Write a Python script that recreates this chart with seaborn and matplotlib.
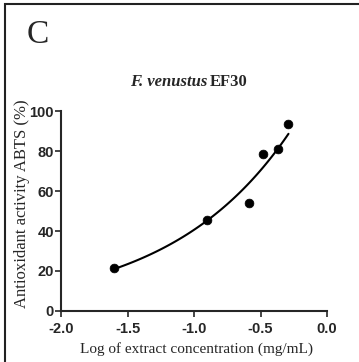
import numpy as np
import matplotlib
matplotlib.use("Agg")
import matplotlib.pyplot as plt
import seaborn as sns
from matplotlib.patches import Rectangle

# data
log_conc = [-1.60, -0.90, -0.59, -0.48, -0.37, -0.29]
activity = [21.5, 45.5, 54.0, 78.5, 81.0, 93.5]
x_ticks = [-2.0, -1.5, -1.0, -0.5, 0.0]
y_ticks = [0, 20, 40, 60, 80, 100]

sns.set_style("ticks")
plt.rcParams["font.family"] = ["Liberation Sans", "DejaVu Sans"]

fig = plt.figure(figsize=(3.59, 3.62), dpi=100)
ax = fig.add_axes([0.170, 0.141, 0.741, 0.552])

# fitted curve (exponential fit of the points)
b, a = np.polyfit(log_conc, np.log(activity), 1)
xs = np.linspace(min(log_conc), max(log_conc), 100)
sns.lineplot(x=xs, y=np.exp(a + b * xs), color="black", lw=1.5, ax=ax)
sns.scatterplot(x=log_conc, y=activity, color="black", s=40, edgecolor="black", ax=ax, zorder=3)

ax.set_xlim(-2.0, 0.0)
ax.set_ylim(0, 100)
ax.set_xticks(x_ticks)
ax.set_xticklabels([f"{t:.1f}" for t in x_ticks])
ax.set_yticks(y_ticks)
ax.tick_params(direction="out", length=4, width=1.2, labelsize=10.5, pad=1)
ax.tick_params(axis="x", pad=4)
for lab in ax.get_xticklabels() + ax.get_yticklabels():
    lab.set_fontweight("bold")
sns.despine(ax=ax)
for s in ["left", "bottom"]:
    ax.spines[s].set_linewidth(1.5)

ax.set_xlabel("Log of extract concentration (mg/mL)", family="Liberation Serif", fontsize=11)
ax.set_ylabel("Antioxidant activity ABTS (%)", family="Liberation Serif", fontsize=12)
ax.xaxis.set_label_coords(0.508, -0.155)
ax.yaxis.set_label_coords(-0.118, 0.535)

# title: italic species name followed by bold strain code
t1 = fig.text(0.362, 0.774, "F. venustus", family="Liberation Serif", fontsize=12,
              fontweight="bold", style="italic", ha="left", va="center")
fig.canvas.draw()
bb = t1.get_window_extent()
fig.text(bb.x1 / fig.bbox.width + 0.008, 0.774, "EF30", family="Liberation Serif", fontsize=12,
         fontweight="bold", ha="left", va="center")
fig.text(0.075, 0.905, "C", family="Liberation Serif", fontsize=24, ha="left", va="center")

# frame around panel
fig.patches.append(Rectangle((0.014, -0.05), 1.5, 1.04, transform=fig.transFigure,
                             fill=False, edgecolor="#222222", lw=1.5))

fig.savefig("out.png", dpi=100)
